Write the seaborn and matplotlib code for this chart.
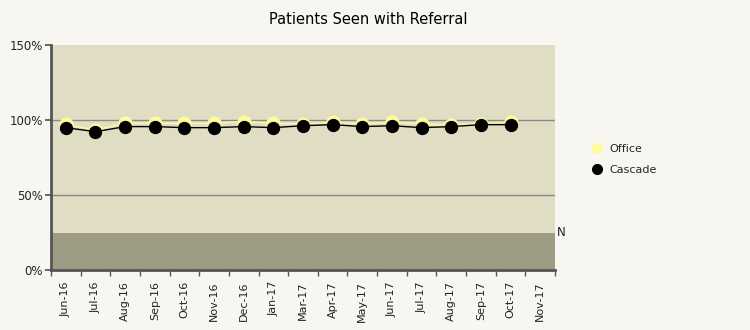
import matplotlib
matplotlib.use("Agg")
import matplotlib.pyplot as plt
import seaborn as sns
import pandas as pd
import numpy as np
from matplotlib.ticker import FuncFormatter
from matplotlib.lines import Line2D

months = ["Jun-16", "Jul-16", "Aug-16", "Sep-16", "Oct-16", "Nov-16", "Dec-16", "Jan-17",
          "Mar-17", "Apr-17", "May-17", "Jun-17", "Jul-17", "Aug-17", "Sep-17", "Oct-17", "Nov-17"]
office = [97.1, 93.3, 97.8, 97.8, 97.8, 97.8, 99.0, 97.8,
          97.3, 98.7, 97.3, 98.7, 97.3, 96.5, 97.5, 98.7, None]
cascade = [94.9, 92.2, 95.6, 95.6, 94.9, 94.9, 95.6, 94.9,
           96.2, 96.9, 95.6, 96.2, 94.9, 95.6, 96.9, 96.9, None]
threshold = 25
y_ticks = [0, 50, 100, 150]

df = pd.DataFrame({"idx": np.arange(len(months)), "month": months,
                   "Office": office, "Cascade": cascade})

sns.set_theme(style="white")
plt.rcParams["font.family"] = ["DejaVu Sans"]

bg = "#f8f6f0"
fig = plt.figure(figsize=(7.5, 3.3), dpi=100, facecolor=bg)
ax = fig.add_axes([51/750, 1-270/330, 504/750, 225/330])
ax.set_facecolor("#e1ddc5")

ax.axhspan(0, threshold, color="#9e9b85", zorder=0.5, lw=0)
for t in [50, 100]:
    ax.axhline(t, color="#8a8a8a", lw=1, zorder=1)

sns.lineplot(data=df, x="idx", y="Office", ax=ax, color="#fcfc9c", lw=1,
             marker="o", markersize=9.5, markeredgecolor="#fcfc9c", zorder=3)
sns.lineplot(data=df, x="idx", y="Cascade", ax=ax, color="black", lw=1,
             marker="o", markersize=8.8, markeredgecolor="black", zorder=4)

ax.set_xlim(-0.5, len(months) - 0.5)
ax.set_ylim(0, 150)
ax.set_yticks(y_ticks)
ax.yaxis.set_major_formatter(FuncFormatter(lambda v, p: f"{int(v)}%"))
ax.set_xticks(np.arange(len(months)))
ax.set_xticklabels(months, rotation=90, fontsize=8, color="#222222")
ax.set_xticks(np.arange(len(months) + 1) - 0.5, minor=True)
ax.tick_params(axis="x", which="major", length=0, pad=8)
ax.tick_params(axis="x", which="minor", length=4, color="#555555", direction="out", bottom=True)
ax.tick_params(axis="y", which="major", length=4, color="#555555", left=True, labelsize=8.5,
               labelcolor="#222222", pad=2)
ax.set_xlabel("")
ax.set_ylabel("")
for s in ["top", "right"]:
    ax.spines[s].set_visible(False)
ax.spines["left"].set_color("#555555")
ax.spines["left"].set_linewidth(2)
ax.spines["bottom"].set_color("#555555")
ax.spines["bottom"].set_linewidth(2)

ax.text(1.003, threshold, "N", transform=ax.get_yaxis_transform(), va="center", ha="left",
        fontsize=8.5, color="#222222")

fig.text(368/750, 1-20/330, "Patients Seen with Referral", ha="center", va="center",
         fontsize=10.5, color="black")

handles = [Line2D([], [], ls="none", marker="o", markersize=7, color="#fcfc9c"),
           Line2D([], [], ls="none", marker="o", markersize=7, color="black")]
fig.legend(handles, ["Office", "Cascade"], loc="upper left", bbox_to_anchor=(580/750, 1-134/330),
           frameon=False, fontsize=8, handletextpad=0.5, labelspacing=1.0, handlelength=1.2)

fig.savefig("out.png", dpi=100, facecolor=bg)
